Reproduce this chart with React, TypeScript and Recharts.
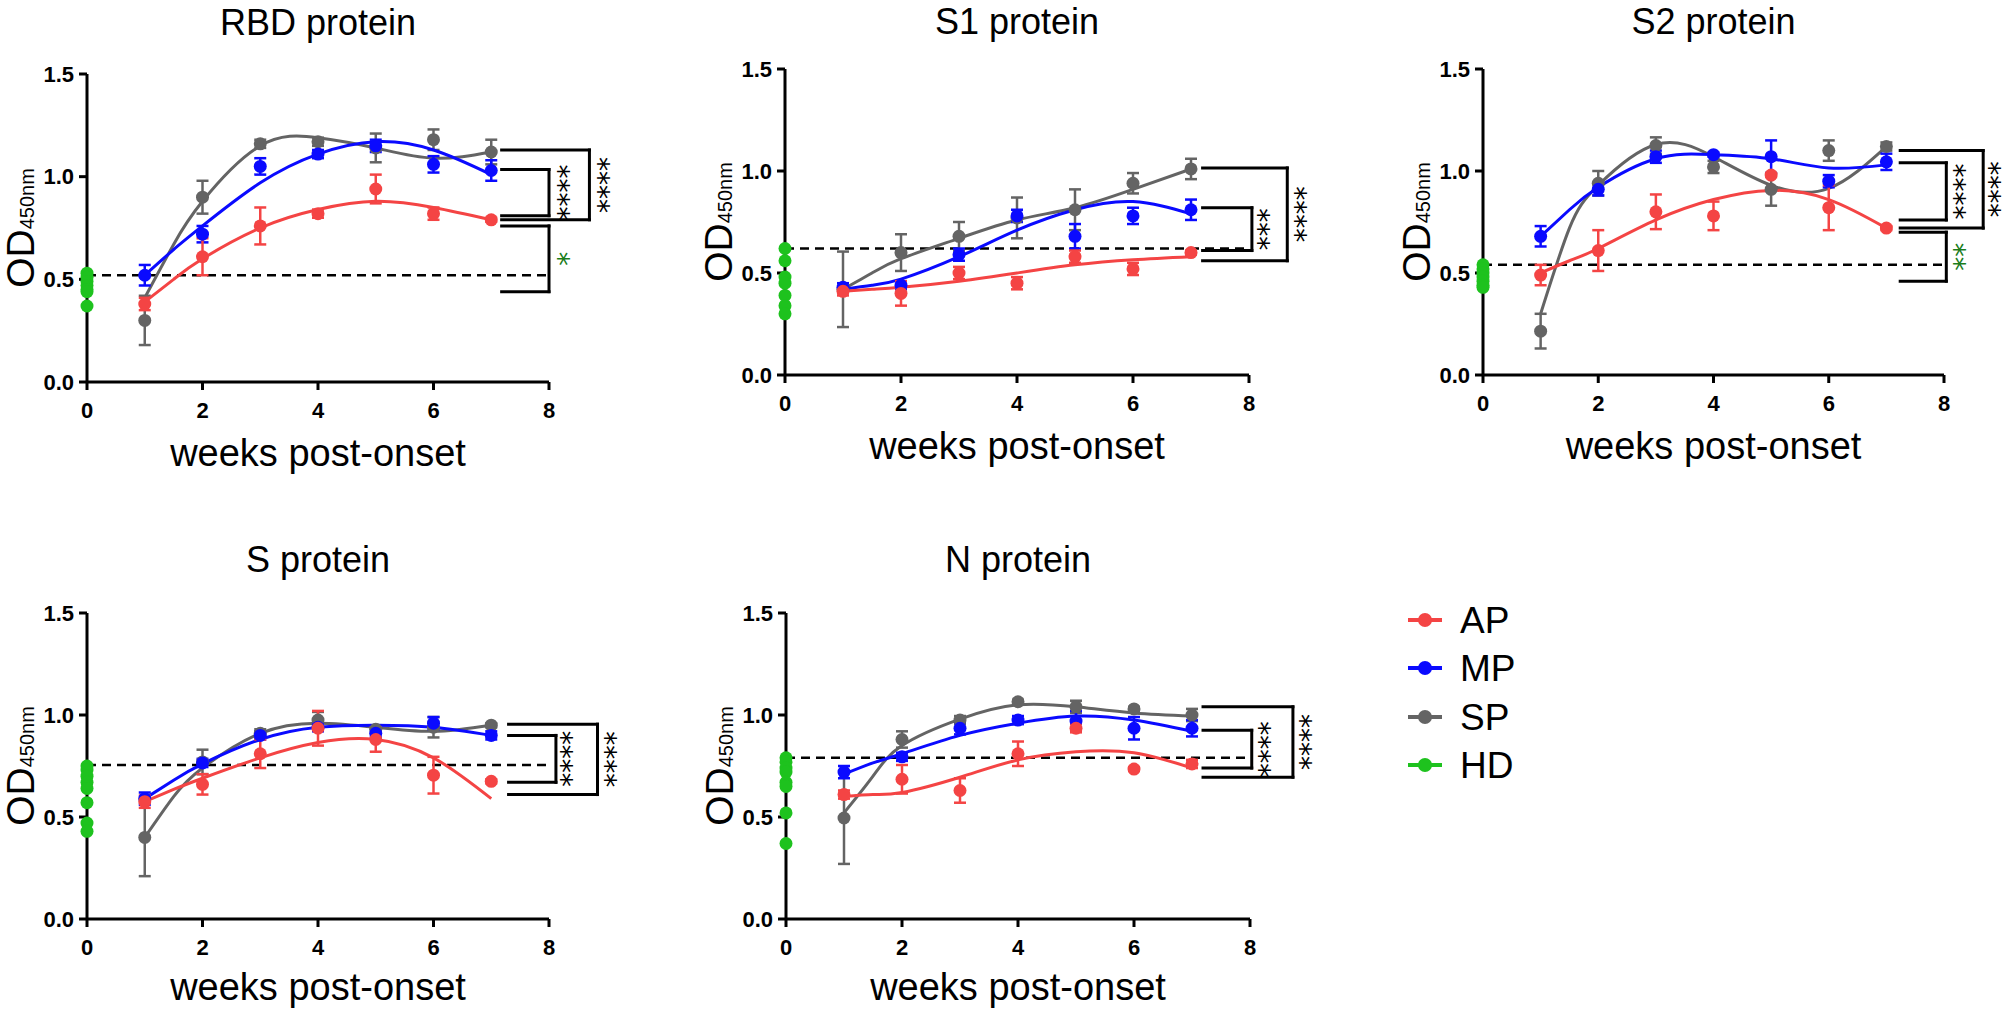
import React from 'react';
import { ComposedChart, ErrorBar, Line, ReferenceDot, ReferenceLine, Scatter, XAxis, YAxis } from 'recharts';

const FONT = '"Liberation Sans", Arial, Helvetica, sans-serif';
const STAR_FONT = '"DejaVu Sans", sans-serif';
const COLORS: Record<string, string> = { AP: '#f44444', MP: '#0a0aff', SP: '#646464', HD: '#1ec21e' };
const SIG_GREEN = '#1b7d1b';

// ---- data ----
const GROUPS = ['AP', 'MP', 'SP', 'HD'];
const WEEKS = [1, 2, 3, 4, 5, 6, 7];
const CURVE_WEEKS = [1, 1.5, 2, 3, 4, 5, 6, 7];
const TICKS_X = [0, 2, 4, 6, 8];
const TICKS_Y = [0, 0.5, 1, 1.5];
const TITLES = ['RBD protein', 'S1 protein', 'S2 protein', 'S protein', 'N protein'];
const CUTOFFS = [0.52, 0.62, 0.54, 0.755, 0.79];

const RBD_HD = [0.53, 0.51, 0.49, 0.47, 0.45, 0.44, 0.37];
const RBD_AP_MEAN = [0.38, 0.61, 0.76, 0.82, 0.94, 0.82, 0.79];
const RBD_AP_SEM = [0.03, 0.09, 0.09, 0.02, 0.07, 0.03, 0.01];
const RBD_MP_MEAN = [0.52, 0.72, 1.05, 1.11, 1.15, 1.06, 1.03];
const RBD_MP_SEM = [0.05, 0.04, 0.04, 0.02, 0.03, 0.04, 0.05];
const RBD_SP_MEAN = [0.3, 0.9, 1.16, 1.17, 1.14, 1.18, 1.12];
const RBD_SP_SEM = [0.12, 0.08, 0.02, 0.02, 0.07, 0.05, 0.06];
const RBD_AP_FIT = [0.39, 0.5, 0.6, 0.75, 0.84, 0.88, 0.85, 0.79];
const RBD_MP_FIT = [0.52, 0.645, 0.76, 0.97, 1.11, 1.17, 1.13, 1.01];
const RBD_SP_FIT = [0.41, 0.67, 0.88, 1.15, 1.19, 1.14, 1.09, 1.12];

const S1_HD = [0.62, 0.56, 0.48, 0.45, 0.39, 0.34, 0.3];
const S1_AP_MEAN = [0.41, 0.4, 0.5, 0.45, 0.58, 0.52, 0.6];
const S1_AP_SEM = [0.02, 0.06, 0.03, 0.03, 0.03, 0.03, 0.01];
const S1_MP_MEAN = [0.43, 0.44, 0.59, 0.78, 0.68, 0.78, 0.81];
const S1_MP_SEM = [0.02, 0.02, 0.03, 0.03, 0.06, 0.04, 0.05];
const S1_SP_MEAN = [0.42, 0.6, 0.68, 0.77, 0.81, 0.94, 1.01];
const S1_SP_SEM = [0.185, 0.09, 0.07, 0.1, 0.1, 0.05, 0.05];
const S1_AP_FIT = [0.41, 0.42, 0.43, 0.46, 0.5, 0.54, 0.565, 0.58];
const S1_MP_FIT = [0.42, 0.44, 0.47, 0.58, 0.71, 0.81, 0.85, 0.79];
const S1_SP_FIT = [0.42, 0.5, 0.57, 0.67, 0.76, 0.82, 0.91, 1.01];

const S2_HD = [0.54, 0.52, 0.5, 0.48, 0.46, 0.44, 0.43];
const S2_AP_MEAN = [0.49, 0.61, 0.8, 0.78, 0.98, 0.82, 0.72];
const S2_AP_SEM = [0.05, 0.1, 0.085, 0.07, 0.01, 0.11, 0.01];
const S2_MP_MEAN = [0.68, 0.91, 1.07, 1.08, 1.07, 0.95, 1.045];
const S2_MP_SEM = [0.05, 0.03, 0.03, 0.01, 0.08, 0.03, 0.04];
const S2_SP_MEAN = [0.215, 0.94, 1.125, 1.02, 0.91, 1.1, 1.12];
const S2_SP_SEM = [0.085, 0.06, 0.04, 0.03, 0.08, 0.05, 0.02];
const S2_AP_FIT = [0.5, 0.56, 0.62, 0.76, 0.86, 0.905, 0.86, 0.72];
const S2_MP_FIT = [0.68, 0.81, 0.92, 1.06, 1.08, 1.06, 1.015, 1.03];
const S2_SP_FIT = [0.3, 0.72, 0.93, 1.13, 1.07, 0.93, 0.915, 1.12];

const S_HD = [0.75, 0.73, 0.7, 0.67, 0.64, 0.57, 0.47, 0.43];
const S_AP_MEAN = [0.575, 0.66, 0.81, 0.935, 0.88, 0.705, 0.675];
const S_AP_SEM = [0.03, 0.05, 0.07, 0.085, 0.06, 0.09, 0.01];
const S_MP_MEAN = [0.59, 0.765, 0.9, 0.94, 0.91, 0.96, 0.9];
const S_MP_SEM = [0.03, 0.02, 0.02, 0.02, 0.02, 0.03, 0.02];
const S_SP_MEAN = [0.4, 0.77, 0.91, 0.975, 0.93, 0.94, 0.95];
const S_SP_SEM = [0.19, 0.06, 0.02, 0.04, 0.02, 0.05, 0.01];
const S_AP_FIT = [0.575, 0.635, 0.69, 0.79, 0.865, 0.88, 0.79, 0.59];
const S_MP_FIT = [0.59, 0.68, 0.76, 0.88, 0.94, 0.95, 0.94, 0.9];
const S_SP_FIT = [0.4, 0.6, 0.74, 0.91, 0.96, 0.94, 0.92, 0.95];

const N_HD = [0.79, 0.77, 0.74, 0.72, 0.67, 0.65, 0.52, 0.37];
const N_AP_MEAN = [0.61, 0.685, 0.63, 0.81, 0.935, 0.735, 0.76];
const N_AP_SEM = [0.02, 0.07, 0.06, 0.06, 0.02, 0.01, 0.02];
const N_MP_MEAN = [0.72, 0.795, 0.935, 0.975, 0.97, 0.935, 0.935];
const N_MP_SEM = [0.03, 0.02, 0.03, 0.02, 0.05, 0.055, 0.04];
const N_SP_MEAN = [0.495, 0.88, 0.975, 1.065, 1.04, 1.03, 1.0];
const N_SP_SEM = [0.225, 0.04, 0.02, 0.01, 0.03, 0.01, 0.03];
const N_AP_FIT = [0.6, 0.61, 0.62, 0.695, 0.78, 0.82, 0.815, 0.74];
const N_MP_FIT = [0.71, 0.765, 0.81, 0.9, 0.96, 0.995, 0.975, 0.92];
const N_SP_FIT = [0.52, 0.7, 0.85, 0.98, 1.05, 1.04, 1.01, 0.995];

// significance brackets: [top, bottom, stars, outer?, green?]
const RBD_SIG: [number, number, string, boolean, boolean][] = [
  [1.13, 0.79, '****', true, false],
  [1.035, 0.81, '****', false, false],
  [0.76, 0.44, '*', false, true],
];
const S1_SIG: [number, number, string, boolean, boolean][] = [
  [1.015, 0.56, '****', true, false],
  [0.82, 0.61, '***', false, false],
];
const S2_SIG: [number, number, string, boolean, boolean][] = [
  [1.1, 0.72, '****', true, false],
  [1.04, 0.76, '****', false, false],
  [0.7, 0.46, '**', false, true],
];
const S_SIG: [number, number, string, boolean, boolean][] = [
  [0.955, 0.61, '****', true, false],
  [0.9, 0.67, '****', false, false],
];
const N_SIG: [number, number, string, boolean, boolean][] = [
  [1.04, 0.695, '****', true, false],
  [0.925, 0.74, '****', false, false],
];

// ---- build rows for the library ----
const pts = (mean: number[], sem: number[]) => WEEKS.map((x, i) => ({ x, y: mean[i], e: sem[i] }));
const fit = (vals: number[]) => CURVE_WEEKS.map((x, i) => ({ x, y: vals[i] }));
const hd = (vals: number[]) => vals.map((y) => ({ x: 0, y }));

const PANELS = [
  { hd: RBD_HD, sig: RBD_SIG, series: { SP: [pts(RBD_SP_MEAN, RBD_SP_SEM), fit(RBD_SP_FIT)], MP: [pts(RBD_MP_MEAN, RBD_MP_SEM), fit(RBD_MP_FIT)], AP: [pts(RBD_AP_MEAN, RBD_AP_SEM), fit(RBD_AP_FIT)] } },
  { hd: S1_HD, sig: S1_SIG, series: { SP: [pts(S1_SP_MEAN, S1_SP_SEM), fit(S1_SP_FIT)], MP: [pts(S1_MP_MEAN, S1_MP_SEM), fit(S1_MP_FIT)], AP: [pts(S1_AP_MEAN, S1_AP_SEM), fit(S1_AP_FIT)] } },
  { hd: S2_HD, sig: S2_SIG, series: { SP: [pts(S2_SP_MEAN, S2_SP_SEM), fit(S2_SP_FIT)], MP: [pts(S2_MP_MEAN, S2_MP_SEM), fit(S2_MP_FIT)], AP: [pts(S2_AP_MEAN, S2_AP_SEM), fit(S2_AP_FIT)] } },
  { hd: S_HD, sig: S_SIG, series: { SP: [pts(S_SP_MEAN, S_SP_SEM), fit(S_SP_FIT)], MP: [pts(S_MP_MEAN, S_MP_SEM), fit(S_MP_FIT)], AP: [pts(S_AP_MEAN, S_AP_SEM), fit(S_AP_FIT)] } },
  { hd: N_HD, sig: N_SIG, series: { SP: [pts(N_SP_MEAN, N_SP_SEM), fit(N_SP_FIT)], MP: [pts(N_MP_MEAN, N_MP_SEM), fit(N_MP_FIT)], AP: [pts(N_AP_MEAN, N_AP_SEM), fit(N_AP_FIT)] } },
];

// ---- layout (page pixels) ----
// bx: bracket left, inner right, outer right, inner stars, outer stars (in weeks)
const LAYOUT = [
  { x0: 87, yTop: 74, plotW: 462, plotH: 308, chartTop: 0, titleY: 35, labelDy: 84, bx: [7.18, 8.0, 8.7, 8.28, 8.97] },
  { x0: 785, yTop: 69, plotW: 464, plotH: 306, chartTop: 0, titleY: 34, labelDy: 84, bx: [7.2, 8.05, 8.66, 8.28, 8.91] },
  { x0: 1483, yTop: 69, plotW: 461, plotH: 306, chartTop: 0, titleY: 34, labelDy: 84, bx: [7.24, 8.04, 8.68, 8.3, 8.9] },
  { x0: 87, yTop: 613, plotW: 462, plotH: 306, chartTop: 540, titleY: 572, labelDy: 81, bx: [7.3, 8.12, 8.84, 8.34, 9.1] },
  { x0: 786, yTop: 613, plotW: 464, plotH: 306, chartTop: 540, titleY: 572, labelDy: 81, bx: [7.19, 8.03, 8.74, 8.28, 8.98] },
];

const ML = 7;
const YW = 80;
const MR = 90;
const XH = 40;
const MB = 5;

const dot = (color: string) => (props: any) => <circle cx={props.cx} cy={props.cy} r={6.5} fill={color} />;

const stars = (text: string, color: string) => (props: any) => (
  <text
    x={props.cx}
    y={props.cy}
    dy="0.58em"
    textAnchor="middle"
    transform={`rotate(90 ${props.cx} ${props.cy})`}
    fontFamily={STAR_FONT}
    fontSize={28}
    fill={color}
  >
    {text}
  </text>
);

function Panel({ idx }: { idx: number }) {
  const lay = LAYOUT[idx];
  const panel = PANELS[idx];
  const mt = lay.yTop - lay.chartTop;
  const [bl, bi, bo, si, so] = lay.bx;
  const cut = CUTOFFS[idx];

  const series: React.ReactNode[] = [];
  (['SP', 'MP', 'AP'] as const).forEach((g) => {
    const [points, curve] = (panel.series as any)[g];
    series.push(
      <Line key={g + 'fit'} data={curve} dataKey="y" type="natural" stroke={COLORS[g]} strokeWidth={3} dot={false} activeDot={false} isAnimationActive={false} />,
    );
    series.push(
      <Scatter key={g + 'pts'} data={points} dataKey="y" fill={COLORS[g]} shape={dot(COLORS[g])} isAnimationActive={false}>
        <ErrorBar dataKey="e" direction="y" width={6} stroke={COLORS[g]} strokeWidth={2.5} />
      </Scatter>,
    );
  });

  const brackets: React.ReactNode[] = [];
  panel.sig.forEach(([top, bottom, text, outer, green], k) => {
    const right = outer ? bo : bi;
    const segs = [
      [{ x: bl, y: top }, { x: right, y: top }],
      [{ x: right, y: top }, { x: right, y: bottom }],
      [{ x: bl, y: bottom }, { x: right, y: bottom }],
    ];
    segs.forEach((s, j) =>
      brackets.push(
        <ReferenceLine key={`b${k}${j}`} segment={s as any} stroke="#000" strokeWidth={3} strokeLinecap="square" ifOverflow="visible" />,
      ),
    );
    brackets.push(
      <ReferenceDot
        key={`s${k}`}
        x={outer ? so : si}
        y={(top + bottom) / 2}
        ifOverflow="visible"
        shape={stars(text, green ? SIG_GREEN : '#000')}
      />,
    );
  });

  return (
    <div style={{ position: 'absolute', left: lay.x0 - ML - YW, top: lay.chartTop }}>
      <ComposedChart
        width={ML + YW + lay.plotW + MR}
        height={mt + lay.plotH + XH + MB}
        margin={{ top: mt, right: MR, bottom: MB, left: ML }}
      >
        <XAxis
          type="number"
          dataKey="x"
          domain={[0, 8]}
          ticks={TICKS_X}
          height={XH}
          tickSize={8}
          tickMargin={12}
          axisLine={{ stroke: '#000', strokeWidth: 3 }}
          tickLine={{ stroke: '#000', strokeWidth: 3 }}
          tick={{ fill: '#000', fontSize: 22, fontWeight: 700, fontFamily: FONT }}
        />
        <YAxis
          type="number"
          dataKey="y"
          domain={[0, 1.5]}
          ticks={TICKS_Y}
          width={YW}
          tickSize={8}
          tickMargin={5}
          tickFormatter={(v: number) => v.toFixed(1)}
          axisLine={{ stroke: '#000', strokeWidth: 3 }}
          tickLine={{ stroke: '#000', strokeWidth: 3 }}
          tick={{ fill: '#000', fontSize: 22, fontWeight: 700, fontFamily: FONT }}
        />
        <ReferenceLine
          segment={[{ x: 0, y: cut }, { x: 8, y: cut }]}
          stroke="#000"
          strokeWidth={2.5}
          strokeDasharray="9 6"
          ifOverflow="visible"
        />
        {brackets}
        {series}
        <Scatter data={hd(panel.hd)} dataKey="y" fill={COLORS.HD} shape={dot(COLORS.HD)} isAnimationActive={false} />
      </ComposedChart>
    </div>
  );
}

function Texts() {
  const legendY = [620, 668, 717, 765];
  return (
    <svg width={2008} height={1009} style={{ position: 'absolute', left: 0, top: 0, pointerEvents: 'none' }}>
      {LAYOUT.map((lay, i) => {
        const cx = lay.x0 + lay.plotW / 2;
        const cy = lay.yTop + lay.plotH / 2;
        return (
          <g key={i} fontFamily={FONT} fill="#000">
            <text x={cx} y={lay.titleY} textAnchor="middle" fontSize={36}>
              {TITLES[i]}
            </text>
            <text x={cx} y={lay.yTop + lay.plotH + lay.labelDy} textAnchor="middle" fontSize={38}>
              weeks post-onset
            </text>
            <text transform={`translate(${lay.x0 - 53},${cy}) rotate(-90)`} textAnchor="middle">
              <tspan fontSize={39}>OD</tspan>
              <tspan fontSize={20}>450nm</tspan>
            </text>
          </g>
        );
      })}
      {GROUPS.map((g, i) => (
        <g key={g}>
          <line x1={1408} x2={1442} y1={legendY[i]} y2={legendY[i]} stroke={COLORS[g]} strokeWidth={4} />
          <circle cx={1425} cy={legendY[i]} r={7} fill={COLORS[g]} />
          <text x={1460} y={legendY[i] + 13} fontFamily={FONT} fontSize={37} fill="#000">
            {g}
          </text>
        </g>
      ))}
    </svg>
  );
}

export default function App() {
  return (
    <div style={{ position: 'fixed', left: 0, top: 0, width: 2008, height: 1009, overflow: 'hidden', background: '#fff' }}>
      {LAYOUT.map((_, i) => (
        <Panel key={i} idx={i} />
      ))}
      <Texts />
    </div>
  );
}
